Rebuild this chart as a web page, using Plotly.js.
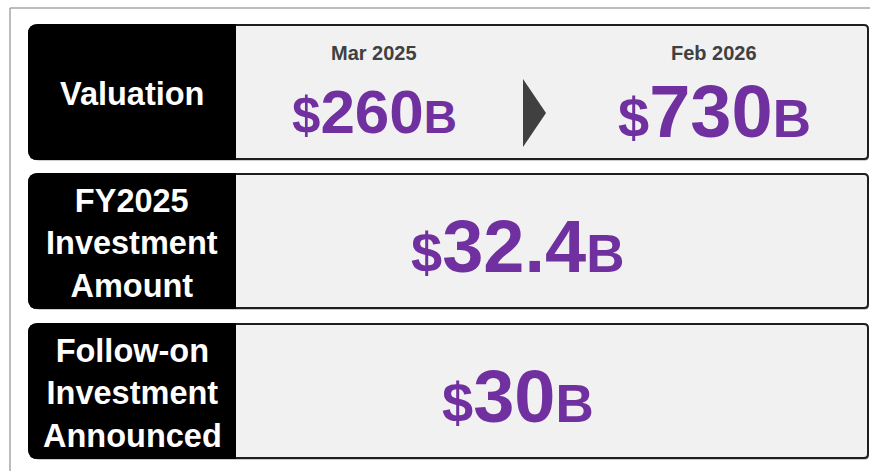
<!DOCTYPE html>
<html>
<head>
<meta charset="utf-8">
<script src="https://cdn.plot.ly/plotly-3.0.1.min.js"></script>
<style>html,body{margin:0;padding:0;background:#fff;}#chart{width:870px;height:471px;}</style>
</head>
<body>
<div id="chart"></div>
<script>
// ---- data ----
const rowLabels = ['Valuation', 'FY2025<br>Investment<br>Amount', 'Follow-on<br>Investment<br>Announced'];
const valuationDates = ['Mar 2025', 'Feb 2026'];
const valuationValues = [260, 730];
const investmentAmount = [32.4];
const followOnAmount = [30];

// ---- style ----
const PURPLE = '#7030A0';
const FONT = 'Liberation Sans, Arial, Helvetica, sans-serif';
const rowsY = [[25, 159], [174, 308], [324, 458]];
const labelX = [29, 235];
const boxRight = 868;

function roundRect(x0, y0, x1, y1, rl, rr) {
  return `M ${x0 + rl} ${y0} L ${x1 - rr} ${y0} Q ${x1} ${y0} ${x1} ${y0 + rr} L ${x1} ${y1 - rr} Q ${x1} ${y1} ${x1 - rr} ${y1} ` +
         `L ${x0 + rl} ${y1} Q ${x0} ${y1} ${x0} ${y1 - rl} L ${x0} ${y0 + rl} Q ${x0} ${y0} ${x0 + rl} ${y0} Z`;
}
function money(v, small, bsize) {
  return `<span style="font-size:${small}px">$</span>${v}<span style="font-size:${bsize}px">B</span>`;
}

const shapes = [];
const annotations = [];

// outer frame
shapes.push({type: 'line', xref: 'x', yref: 'y', x0: 10, x1: 10, y0: 8, y1: 471, line: {color: '#a6a6a6', width: 1.5}});
shapes.push({type: 'line', xref: 'x', yref: 'y', x0: 10, x1: 870, y0: 8, y1: 8, line: {color: '#a6a6a6', width: 1.5}});

rowsY.forEach(([y0, y1], i) => {
  shapes.push({type: 'path', xref: 'x', yref: 'y', path: roundRect(labelX[0] + 1, y0 + 1, boxRight + 1, y1 + 1.5, 9, 4),
    fillcolor: '#9a9a9a', line: {width: 0}});
  shapes.push({type: 'path', xref: 'x', yref: 'y', path: roundRect(labelX[0], y0, boxRight, y1, 9, 4),
    fillcolor: '#f1f1f1', line: {color: '#1e1e1e', width: 2}});
  shapes.push({type: 'path', xref: 'x', yref: 'y', path: roundRect(labelX[0], y0, labelX[1], y1, 9, 0),
    fillcolor: '#000000', line: {color: '#000000', width: 2}});
  annotations.push({xref: 'x', yref: 'y', x: (labelX[0] + labelX[1]) / 2, y: (y0 + y1) / 2 + 2,
    text: '<b>' + rowLabels[i] + '</b>', showarrow: false, xanchor: 'center', yanchor: 'middle',
    font: {family: FONT, size: 32.5, color: '#ffffff'}});
});

// valuation row
const valX = [374, 714];
const valSizes = [[62, 51, 46], [74, 56, 53]];
valuationDates.forEach((d, i) => {
  annotations.push({xref: 'x', yref: 'y', x: valX[i], y: 53, text: '<b>' + d + '</b>', showarrow: false,
    xanchor: 'center', yanchor: 'middle', font: {family: FONT, size: 20, color: '#404040'}});
  const s = valSizes[i];
  annotations.push({xref: 'x', yref: 'y', x: valX[i], y: 111, text: '<b>' + money(valuationValues[i], s[1], s[2]) + '</b>',
    showarrow: false, xanchor: 'center', yanchor: 'middle', font: {family: FONT, size: s[0], color: PURPLE}});
});
shapes.push({type: 'path', xref: 'x', yref: 'y', path: 'M 523 79 L 546 113 L 523 147 Z', fillcolor: '#404040', line: {width: 0}});

// investment rows
annotations.push({xref: 'x', yref: 'y', x: 517, y: 246, text: '<b>' + money(investmentAmount[0], 56, 53) + '</b>',
  showarrow: false, xanchor: 'center', yanchor: 'middle', font: {family: FONT, size: 74, color: PURPLE}});
annotations.push({xref: 'x', yref: 'y', x: 518, y: 396, text: '<b>' + money(followOnAmount[0], 56, 53) + '</b>',
  showarrow: false, xanchor: 'center', yanchor: 'middle', font: {family: FONT, size: 74, color: PURPLE}});

const layout = {
  width: 870, height: 471,
  margin: {l: 0, r: 0, t: 0, b: 0},
  paper_bgcolor: '#ffffff', plot_bgcolor: '#ffffff',
  xaxis: {range: [0, 870], visible: false, fixedrange: true},
  yaxis: {range: [471, 0], visible: false, fixedrange: true},
  showlegend: false,
  shapes: shapes,
  annotations: annotations
};
Plotly.newPlot('chart', [{x: [], y: [], type: 'scatter'}], layout, {displayModeBar: false, staticPlot: true});
</script>
</body>
</html>
